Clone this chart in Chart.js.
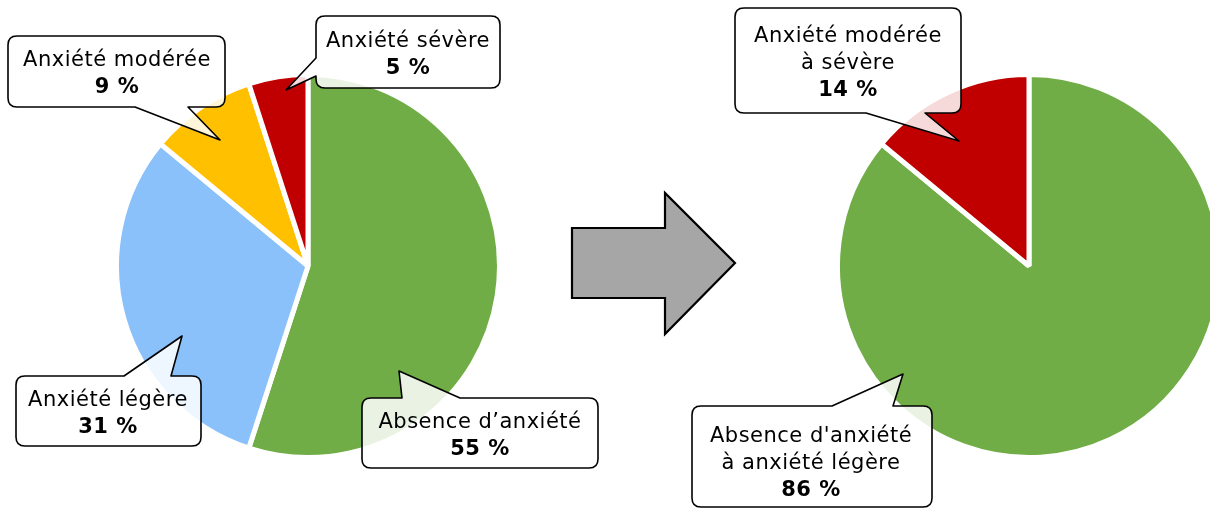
<!DOCTYPE html>
<html>
<head>
<meta charset="utf-8">
<script src="https://cdn.jsdelivr.net/npm/chart.js@4/dist/chart.umd.min.js"></script>
<style>
  html, body { margin:0; padding:0; background:#fff; }
  body { width:1210px; height:508px; overflow:hidden; position:relative; }
  #wrapL { position:absolute; left:114px; top:72px; width:388px; height:388px; }
  #wrapR { position:absolute; left:835px; top:72px; width:388px; height:388px; }
  #overlay { position:absolute; left:0; top:0; width:1210px; height:508px; pointer-events:none; }
  #overlay text { font-family:"DejaVu Sans", sans-serif; font-size:21px; letter-spacing:0.5px; fill:#000; }
</style>
</head>
<body>
<div id="wrapL"><canvas id="pieL" width="388" height="388"></canvas></div>
<div id="wrapR"><canvas id="pieR" width="388" height="388"></canvas></div>
<svg id="overlay" width="1210" height="508" xmlns="http://www.w3.org/2000/svg"></svg>
<script>
// ---- data ----
const leftCategories = ["Absence d’anxiété", "Anxiété légère", "Anxiété modérée", "Anxiété sévère"];
const leftValues = [55, 31, 9, 5];
const leftColors = ["#70AD47", "#8AC1FA", "#FFC000", "#C00000"];

const rightCategories = ["Absence d'anxiété\nà anxiété légère", "Anxiété modérée\nà sévère"];
const rightValues = [86, 14];
const rightColors = ["#70AD47", "#C00000"];

// ---- callout placement (style/positions) ----
const leftCallouts = [
  { x:362, y:398, w:236, h:70, side:"top", a:402, b:460, tx:399, ty:371, cx:480, base:428 },
  { x:16, y:376, w:185, h:70, side:"top", a:124, b:171, tx:182, ty:336, cx:108, base:406 },
  { x:8, y:36, w:217, h:71, side:"bottom", a:135, b:188, tx:220, ty:140, cx:117, base:66 },
  { x:316, y:16, w:184, h:72, side:"left", a:58, b:76, tx:286, ty:90, cx:408, base:47 }
];
const rightCallouts = [
  { x:692, y:406, w:240, h:101, side:"top", a:832, b:893, tx:903, ty:374, cx:811, base:442 },
  { x:735, y:8, w:226, h:105, side:"bottom", a:866, b:925, tx:959, ty:141, cx:848, base:42 }
];
const lineH = 27;

function makePie(id, labels, values, colors) {
  return new Chart(document.getElementById(id), {
    type: "pie",
    data: { labels: labels, datasets: [{ data: values, backgroundColor: colors, borderColor: "#ffffff", borderWidth: 5 }] },
    options: {
      responsive: false, animation: false,
      layout: { padding: 0 },
      plugins: { legend: { display: false }, tooltip: { enabled: false } }
    }
  });
}
makePie("pieL", leftCategories, leftValues, leftColors);
makePie("pieR", rightCategories, rightValues, rightColors);

// ---- overlay: arrow + callouts ----
const NS = "http://www.w3.org/2000/svg";
const svg = document.getElementById("overlay");
function el(tag, attrs) {
  const e = document.createElementNS(NS, tag);
  for (const k in attrs) e.setAttribute(k, attrs[k]);
  svg.appendChild(e);
  return e;
}
el("polygon", { points:"572,228 665,228 665,193 735,263 665,334 665,298 572,298",
  fill:"#A6A6A6", stroke:"#000", "stroke-width":2.2, "stroke-linejoin":"miter" });

function calloutPath(c) {
  const r = 9, x = c.x, y = c.y, w = c.w, h = c.h;
  let p = `M${x+r},${y}`;
  if (c.side === "top") p += ` L${c.a},${y} L${c.tx},${c.ty} L${c.b},${y}`;
  p += ` L${x+w-r},${y} Q${x+w},${y} ${x+w},${y+r}`;
  p += ` L${x+w},${y+h-r} Q${x+w},${y+h} ${x+w-r},${y+h}`;
  if (c.side === "bottom") p += ` L${c.b},${y+h} L${c.tx},${c.ty} L${c.a},${y+h}`;
  p += ` L${x+r},${y+h} Q${x},${y+h} ${x},${y+h-r}`;
  if (c.side === "left") p += ` L${x},${c.b} L${c.tx},${c.ty} L${x},${c.a}`;
  p += ` L${x},${y+r} Q${x},${y} ${x+r},${y} Z`;
  return p;
}
function drawCallouts(cats, vals, places) {
  cats.forEach((cat, i) => {
    const c = places[i];
    el("path", { d: calloutPath(c), fill:"rgba(255,255,255,0.85)", stroke:"#000", "stroke-width":1.6, "stroke-linejoin":"round" });
    const lines = cat.split("\n");
    lines.forEach((ln, j) => {
      const t = el("text", { x:c.cx, y:c.base + j*lineH, "text-anchor":"middle" });
      t.textContent = ln;
    });
    const t = el("text", { x:c.cx, y:c.base + lines.length*lineH, "text-anchor":"middle", "font-weight":"bold" });
    t.textContent = vals[i] + " %";
  });
}
drawCallouts(leftCategories, leftValues, leftCallouts);
drawCallouts(rightCategories, rightValues, rightCallouts);
</script>
</body>
</html>
